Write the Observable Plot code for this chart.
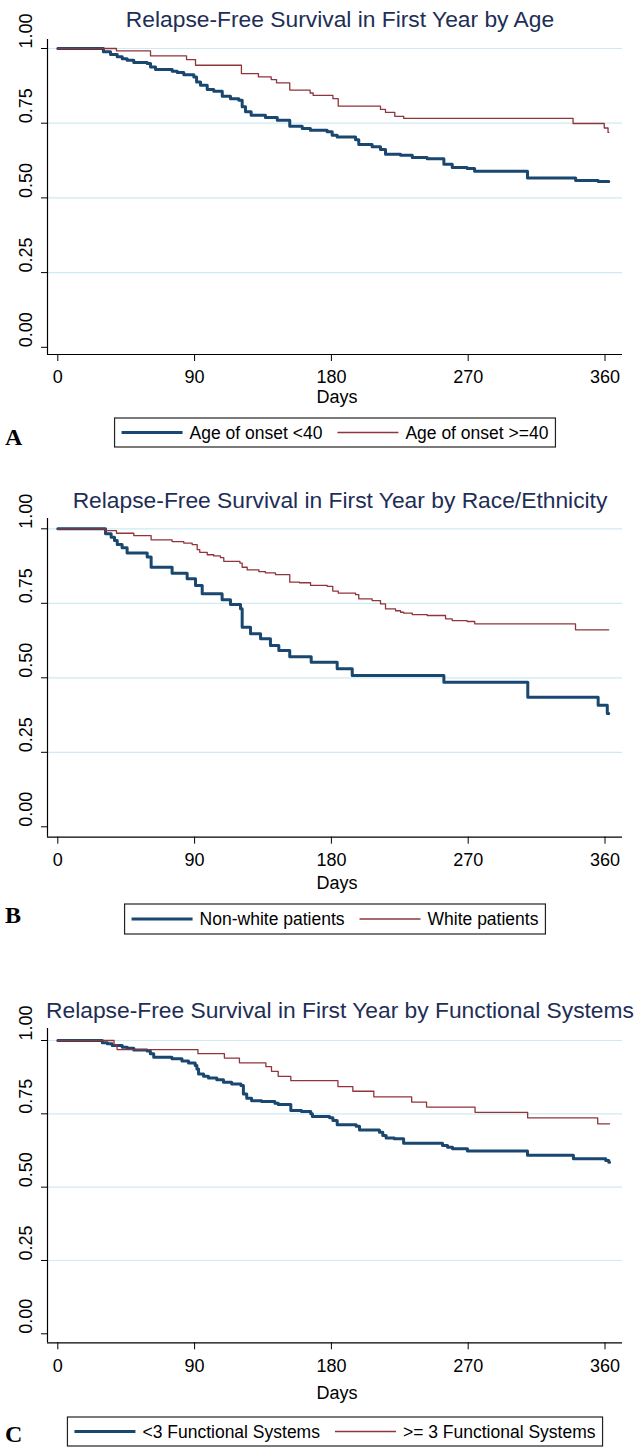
<!DOCTYPE html>
<html><head><meta charset="utf-8">
<script src="https://cdn.jsdelivr.net/npm/d3@7"></script>
<script src="https://cdn.jsdelivr.net/npm/@observablehq/plot@0.6"></script>
<style>
html,body{margin:0;padding:0;background:#fff;}
#page{position:relative;width:637px;height:1447px;overflow:hidden;background:#fff;font-family:"Liberation Sans",Arial,sans-serif;}
#page svg{position:absolute;left:0;}
</style></head>
<body><div id="page"></div>
<script>
// ---------- data ----------
const xTicks = [0, 90, 180, 270, 360];
const yTicks = [0, 0.25, 0.5, 0.75, 1];
const gridValues = [0.25, 0.5, 0.75, 1];

const titles = [
  "Relapse-Free Survival in First Year by Age",
  "Relapse-Free Survival in First Year by Race/Ethnicity",
  "Relapse-Free Survival in First Year by Functional Systems"
];
const panelLetters = ["A", "B", "C"];
const seriesLabelsA = ["Age of onset <40", "Age of onset >=40"];
const seriesLabelsB = ["Non-white patients", "White patients"];
const seriesLabelsC = ["<3 Functional Systems", ">= 3 Functional Systems"];
const xLabel = "Days";

// Panel A: age of onset
const ageLt40Day = [0, 30, 34.7, 39.1, 42.4, 45.6, 50, 58.8, 61, 64.3, 75.3, 78.6, 82.9, 89.5, 91.3, 93.9, 98.3, 102.6, 108.2, 113.6, 119.1, 121.3, 123.5, 127.2, 136.6, 144.4, 152.6, 160.8, 166.2, 177.2, 180.5, 183.8, 195.9, 198, 206.8, 212.3, 215.6, 225.5, 233.2, 243, 254, 259.5, 269.3, 274.2, 309, 340.7, 355.5, 362.5];
const ageLt40Surv = [1, 0.989, 0.98, 0.972, 0.966, 0.961, 0.953, 0.95, 0.938, 0.93, 0.924, 0.92, 0.912, 0.905, 0.888, 0.877, 0.863, 0.857, 0.84, 0.832, 0.827, 0.805, 0.788, 0.777, 0.769, 0.76, 0.74, 0.732, 0.726, 0.721, 0.71, 0.704, 0.695, 0.679, 0.671, 0.662, 0.646, 0.643, 0.635, 0.631, 0.613, 0.602, 0.598, 0.589, 0.567, 0.558, 0.555, 0.555];
const ageGe40Day = [0, 38.6, 61, 84.7, 90.6, 120.8, 132, 140.4, 143.9, 152.6, 166, 168, 181, 184.5, 212.3, 215.6, 221.7, 227.6, 339, 359.5, 362, 362.5];
const ageGe40Surv = [1, 0.992, 0.975, 0.963, 0.944, 0.916, 0.905, 0.896, 0.885, 0.861, 0.851, 0.843, 0.832, 0.807, 0.796, 0.786, 0.773, 0.766, 0.749, 0.734, 0.719, 0.719];

// Panel B: race / ethnicity
const nonWhiteDay = [0, 31.4, 35.1, 37.3, 39.1, 42.3, 45.6, 58.8, 61.4, 75.2, 85.1, 90.6, 95, 108.1, 113.6, 120.2, 121.3, 126.8, 133.4, 139.9, 145.4, 152.6, 166.7, 183.8, 193.7, 254, 309.2, 355.5, 361.5, 362.5];
const nonWhiteSurv = [1, 0.983, 0.972, 0.961, 0.947, 0.936, 0.919, 0.905, 0.871, 0.851, 0.832, 0.81, 0.782, 0.762, 0.746, 0.732, 0.67, 0.648, 0.631, 0.608, 0.592, 0.571, 0.552, 0.53, 0.508, 0.485, 0.435, 0.408, 0.38, 0.38];
const whiteDay = [0, 31.4, 38.6, 50, 61.4, 75.2, 82.9, 88.4, 91.7, 93.4, 98.3, 102.6, 107, 109.2, 119.8, 121.3, 124.6, 132.3, 136.6, 143.2, 152.6, 159, 166.3, 177.2, 180.9, 184.5, 195.9, 198, 206.8, 212.3, 215.6, 222.2, 225.5, 227.6, 233.2, 243, 255.1, 259.5, 269.3, 274.3, 340.6, 362.5];
const whiteSurv = [1, 0.994, 0.985, 0.977, 0.963, 0.957, 0.952, 0.947, 0.93, 0.921, 0.913, 0.909, 0.903, 0.891, 0.885, 0.871, 0.862, 0.856, 0.852, 0.846, 0.821, 0.819, 0.81, 0.807, 0.791, 0.784, 0.779, 0.765, 0.759, 0.748, 0.731, 0.725, 0.72, 0.717, 0.712, 0.709, 0.698, 0.692, 0.689, 0.681, 0.661, 0.661];

// Panel C: functional systems
const fsLt3Day = [0, 29.3, 32.6, 35.8, 42.4, 45.7, 50, 58.8, 60.9, 63.1, 75.1, 81.7, 86, 90.4, 91.5, 92.6, 95.9, 99.1, 104.6, 109, 114.4, 120.5, 122.1, 124.3, 127.5, 134.1, 142.8, 145, 153.3, 160.3, 166.4, 167.5, 178.8, 181, 183.8, 196.3, 198.5, 211.6, 213.8, 216, 221.4, 227.5, 253.1, 256.4, 259.7, 269.5, 309, 339.2, 360.5, 362.5, 363];
const fsLt3Surv = [1, 0.992, 0.989, 0.983, 0.977, 0.974, 0.968, 0.964, 0.955, 0.943, 0.938, 0.93, 0.923, 0.915, 0.903, 0.886, 0.878, 0.872, 0.866, 0.858, 0.852, 0.847, 0.818, 0.803, 0.795, 0.792, 0.786, 0.782, 0.761, 0.758, 0.75, 0.741, 0.737, 0.727, 0.713, 0.708, 0.695, 0.687, 0.676, 0.668, 0.665, 0.65, 0.642, 0.636, 0.631, 0.623, 0.609, 0.597, 0.591, 0.585, 0.585];
const fsGe3Day = [0, 37, 39, 92.2, 109.6, 119.5, 136.9, 140.6, 145, 153.3, 184.3, 194.1, 207.9, 232.8, 242.6, 274.5, 309.1, 355.2, 363];
const fsGe3Surv = [1, 0.985, 0.969, 0.955, 0.94, 0.924, 0.911, 0.895, 0.878, 0.863, 0.843, 0.827, 0.808, 0.79, 0.773, 0.755, 0.736, 0.716, 0.716];

// ---------- styles / layout ----------
const BLUE = "#1a476f", RED = "#90353b", GRID = "#cfeaf0", TITLE = "#1e2e56";
const W = 637;
const FRAME_L = 47, FRAME_R = 622, X0 = 57.3, X360 = 604.5;
const kx = (X360 - X0) / 360;
const xDom = [-(X0 - FRAME_L) / kx, 360 + (FRAME_R - X360) / kx];

const page = document.getElementById("page");
const mk = (days, surv) => days.map((d, i) => ({day: d, s: surv[i]}));

const panels = [
  {top: 39.3, y1: 48.3, y0: 347.1, axis: 354.3, blue: mk(ageLt40Day, ageLt40Surv), red: mk(ageGe40Day, ageGe40Surv),
   titleY: 27, daysY: 403, legTop: 418, legBot: 447, letterY: 445, labels: seriesLabelsA},
  {top: 518, y1: 528.3, y0: 826.3, axis: 836.7, blue: mk(nonWhiteDay, nonWhiteSurv), red: mk(whiteDay, whiteSurv),
   titleY: 508, daysY: 889, legTop: 904, legBot: 934, letterY: 923, labels: seriesLabelsB},
  {top: 1028, y1: 1040, y0: 1333.3, axis: 1342.3, blue: mk(fsLt3Day, fsLt3Surv), red: mk(fsGe3Day, fsGe3Surv),
   titleY: 1018, daysY: 1399, legTop: 1417, legBot: 1446, letterY: 1442, labels: seriesLabelsC}
];

panels.forEach(cfg => {
  const k = cfg.y0 - cfg.y1;
  const yDom = [-(cfg.axis - cfg.y0) / k, 1 + (cfg.y1 - cfg.top) / k];
  const svgTop = cfg.top - 6;
  const height = Math.round(cfg.axis + 36 - svgTop);
  const chart = Plot.plot({
    width: W, height,
    marginLeft: FRAME_L, marginRight: W - FRAME_R,
    marginTop: cfg.top - svgTop, marginBottom: height - (cfg.axis - svgTop),
    x: {domain: xDom}, y: {domain: yDom},
    style: {fontFamily: "'Liberation Sans', Arial, sans-serif", fontSize: "18px", color: "#000", background: "transparent", overflow: "visible"},
    marks: [
      Plot.ruleY(gridValues, {stroke: GRID, strokeWidth: 1.2}),
      Plot.axisX({ticks: xTicks, tickSize: 7, tickPadding: 9, label: null, fontSize: 18, tickFormat: d => String(d)}),
      Plot.axisY({ticks: yTicks, tickSize: 6, tickFormat: () => "", label: null}),
      Plot.text(yTicks, {y: d => d, text: d => d.toFixed(2), frameAnchor: "left", dx: -21, rotate: -90, fontSize: 18, fill: "#000"}),
      Plot.ruleX([xDom[0]], {stroke: "#000", strokeWidth: 1.2}),
      Plot.ruleY([yDom[0]], {stroke: "#000", strokeWidth: 1.2}),
      Plot.line(cfg.blue, {x: "day", y: "s", curve: "step-after", stroke: BLUE, strokeWidth: 3}),
      Plot.line(cfg.red, {x: "day", y: "s", curve: "step-after", stroke: RED, strokeWidth: 1.3})
    ]
  });
  chart.style.top = svgTop + "px";
  page.append(chart);
});

// ---------- overlay: titles, axis titles, legends, letters ----------
const ov = d3.select(page).append("svg")
  .attr("width", W).attr("height", 1447)
  .style("top", "0px").style("pointer-events", "none")
  .style("font-family", "'Liberation Sans', Arial, sans-serif");

panels.forEach((cfg, i) => {
  ov.append("text").attr("x", 340).attr("y", cfg.titleY).attr("text-anchor", "middle")
    .attr("font-size", 22.8).attr("fill", TITLE).text(titles[i]);
  ov.append("text").attr("x", 337).attr("y", cfg.daysY).attr("text-anchor", "middle")
    .attr("font-size", 18).attr("fill", "#000").text(xLabel);
  ov.append("text").attr("x", 5).attr("y", cfg.letterY)
    .attr("font-family", "'Liberation Serif', 'Times New Roman', serif").attr("font-weight", "bold")
    .attr("font-size", 24).attr("fill", "#000").text(panelLetters[i]);

  // legend
  const g = ov.append("g");
  const midY = (cfg.legTop + cfg.legBot) / 2;
  const pad = 7, sw = 61, gap = 7, itemGap = 15;
  let x = 0;
  const parts = [];
  [[BLUE, 3], [RED, 1.3]].forEach(([col, w], j) => {
    if (j) x += itemGap;
    parts.push({type: "line", x, col, w});
    x += sw + gap;
    const t = g.append("text").attr("y", midY + 6).attr("font-size", 17.5).attr("fill", "#000").text(cfg.labels[j]);
    const len = t.node().getComputedTextLength();
    parts.push({type: "text", x, node: t});
    x += len;
  });
  const boxW = x + 2 * pad;
  const left = 335 - boxW / 2;
  g.insert("rect", ":first-child").attr("x", left).attr("y", cfg.legTop).attr("width", boxW)
    .attr("height", cfg.legBot - cfg.legTop).attr("fill", "#fff").attr("stroke", "#222").attr("stroke-width", 1.2);
  parts.forEach(p => {
    if (p.type === "line") {
      g.append("line").attr("x1", left + pad + p.x).attr("x2", left + pad + p.x + sw)
        .attr("y1", midY).attr("y2", midY).attr("stroke", p.col).attr("stroke-width", p.w);
    } else {
      p.node.attr("x", left + pad + p.x);
    }
  });
});
</script>
</body></html>
